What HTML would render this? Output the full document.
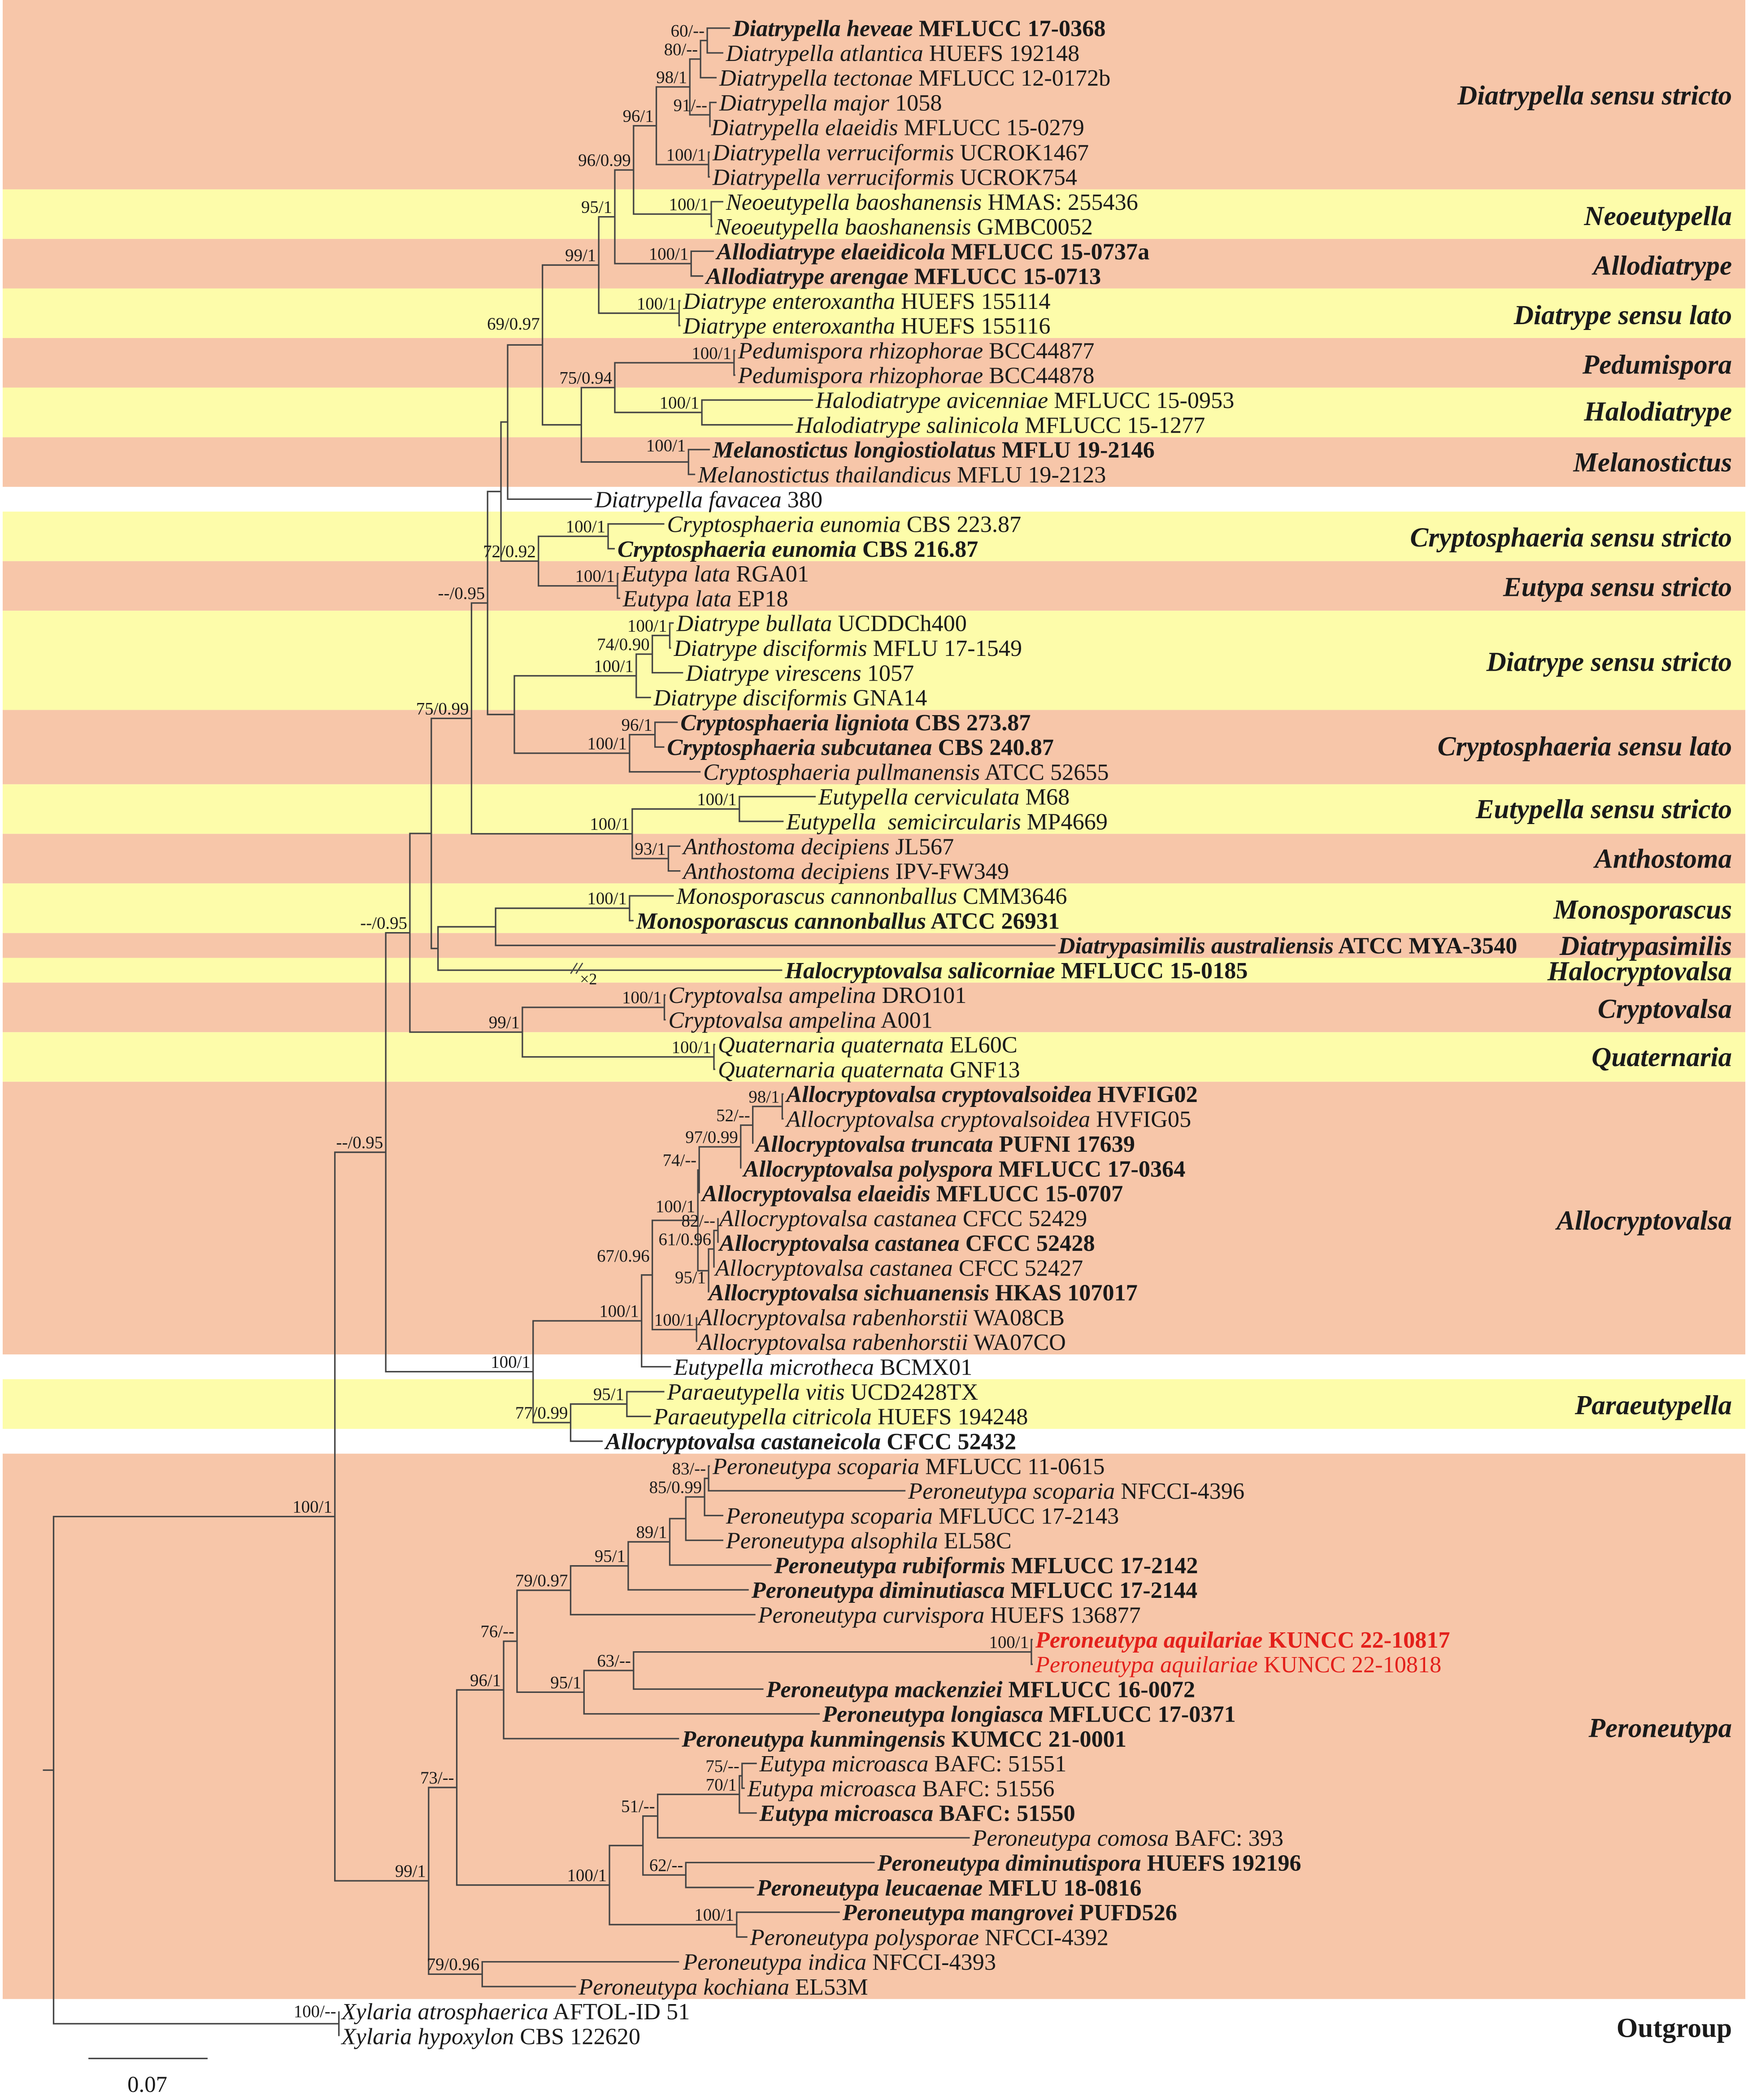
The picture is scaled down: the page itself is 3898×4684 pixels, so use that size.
<!DOCTYPE html>
<html><head><meta charset="utf-8"><style>
html,body{margin:0;padding:0;background:#fff;}
svg{display:block;}
text{font-family:"Liberation Serif",serif;fill:#1a1a1a;}
.t{font-size:17.5px;}
.b{font-weight:bold;}
.i{font-style:italic;}
.s{font-size:13px;text-anchor:end;fill:#222;}
.c{font-size:20.5px;font-weight:bold;font-style:italic;text-anchor:end;}
.r{fill:#e3201b;}
</style></head><body>
<svg width="3898" height="4684" viewBox="0 0 1305 1568" preserveAspectRatio="none" xmlns="http://www.w3.org/2000/svg">
<g>
<rect x="2" y="0" width="1301" height="141.4" fill="#f7c6a9"/>
<rect x="2" y="141.4" width="1301" height="37" fill="#fdfcaa"/>
<rect x="2" y="178.4" width="1301" height="37" fill="#f7c6a9"/>
<rect x="2" y="215.4" width="1301" height="37" fill="#fdfcaa"/>
<rect x="2" y="252.4" width="1301" height="37" fill="#f7c6a9"/>
<rect x="2" y="289.4" width="1301" height="37.1" fill="#fdfcaa"/>
<rect x="2" y="326.5" width="1301" height="37" fill="#f7c6a9"/>
<rect x="2" y="382" width="1301" height="37" fill="#fdfcaa"/>
<rect x="2" y="419" width="1301" height="37" fill="#f7c6a9"/>
<rect x="2" y="456" width="1301" height="74.1" fill="#fdfcaa"/>
<rect x="2" y="530.1" width="1301" height="55.5" fill="#f7c6a9"/>
<rect x="2" y="585.6" width="1301" height="37" fill="#fdfcaa"/>
<rect x="2" y="622.6" width="1301" height="37" fill="#f7c6a9"/>
<rect x="2" y="659.6" width="1301" height="37.1" fill="#fdfcaa"/>
<rect x="2" y="696.7" width="1301" height="18.5" fill="#f7c6a9"/>
<rect x="2" y="715.2" width="1301" height="18.5" fill="#fdfcaa"/>
<rect x="2" y="733.7" width="1301" height="37" fill="#f7c6a9"/>
<rect x="2" y="770.7" width="1301" height="37" fill="#fdfcaa"/>
<rect x="2" y="807.7" width="1301" height="203.6" fill="#f7c6a9"/>
<rect x="2" y="1029.8" width="1301" height="37.1" fill="#fdfcaa"/>
<rect x="2" y="1085.4" width="1301" height="407.2" fill="#f7c6a9"/>
</g>
<path fill="none" stroke="#444" stroke-width="1.1" d="
M545 21 H528 V39.5 H540
M528 30.25 H523 V58 H535
M535 76.5 H530 V95 H530
M523 44.1 H515 V85.75 H530
M530 113.6 H529 V132.1 H530
M515 64.9 H490 V122.85 H529
M540 150.6 H531 V169.1 H532
M490 93.9 H473 V159.85 H531
M533 187.6 H516 V206.1 H525
M473 126.9 H459 V196.85 H516
M508 224.6 H507 V243.1 H508
M459 161.9 H447 V233.85 H507
M549 261.6 H548 V280.1 H549
M607 298.7 H524 V317.2 H592
M548 270.85 H459 V307.95 H524
M530 335.7 H514 V354.2 H519
M459 289.4 H434 V344.95 H514
M447 197.9 H405 V317.2 H434
M405 257.55 H379 V372.7 H442
M496 391.2 H454 V409.7 H459
M462 428.2 H461 V446.7 H463
M454 400.45 H402 V437.45 H461
M379 315.1 H374 V418.95 H402
M503 465.2 H500 V483.8 H501
M500 474.5 H487 V502.3 H510
M487 488.4 H475 V520.8 H486
M506 539.3 H489 V557.8 H496
M489 548.55 H470 V576.3 H523
M475 504.6 H384 V562.4 H470
M374 367 H364 V533.5 H384
M609 594.8 H552 V613.3 H585
M508 631.8 H499 V650.3 H508
M552 604.05 H472 V641.05 H499
M364 450.25 H352 V622.55 H472
M503 668.9 H470 V687.4 H473
M470 678.15 H370 V705.9 H788
M370 692 H327 V724.4 H584
M352 536.4 H322 V708.2 H327
M497 742.9 H496 V761.4 H497
M534 779.9 H533 V798.4 H534
M496 752.15 H390 V789.15 H533
M322 622.3 H306 V770.65 H390
M585 816.9 H584 V835.4 H585
M584 826.15 H562 V854 H562
M562 840.1 H553 V872.5 H553
M553 856.3 H522 V891 H522
M536 909.5 V928
M536 918.75 H533 V946.5 H533
M533 932.6 H529 V965 H529
M522 873.65 H521 V948.8 H529
M520 983.5 V1002
M521 911.2 H487 V992.75 H520
M487 951.98 H479 V1020.5 H501
M496 1039.1 H468 V1057.6 H486
M468 1048.35 H426 V1076.1 H450
M479 986.24 H398 V1062.2 H426
M306 696.5 H288 V1024.2 H398
M530 1094.6 H529 V1113.1 H676
M529 1103.85 H526 V1131.6 H540
M526 1117.7 H512 V1150.1 H540
M512 1133.9 H500 V1168.6 H576
M500 1151.25 H469 V1187.1 H559
M469 1169.2 H426 V1205.6 H564
M771 1224.2 H770 V1242.7 H771
M770 1233.45 H473 V1261.2 H570
M473 1247.3 H436 V1279.7 H612
M426 1187.4 H386 V1263.5 H436
M386 1225.45 H376 V1298.2 H507
M565 1316.7 H554 V1335.2 H556
M554 1325.95 H552 V1353.7 H565
M552 1339.8 H491 V1372.2 H724
M653 1390.7 H512 V1409.3 H563
M491 1356 H480 V1400 H512
M627 1427.8 H550 V1446.3 H558
M480 1378 H455 V1437.05 H550
M376 1261.8 H341 V1407.5 H455
M507 1464.8 H360 V1483.3 H430
M341 1334.65 H320 V1474.05 H360
M288 860.35 H250 V1404.35 H320
M253 1501.8 V1520.3
M250 1132.35 H40 V1511.05 H253
M32 1321.7 H40
M66 1537 H155
"/>
<path fill="none" stroke="#444" stroke-width="0.9" d="M426 727 L431 719 M430 727 L435 719"/>
<text x="433" y="735" style="font-size:12px">×2</text>

<g class="t">
<text x="547" y="27" class="b"><tspan class="i">Diatrypella heveae</tspan> MFLUCC 17-0368</text>
<text x="542" y="45.5"><tspan class="i">Diatrypella atlantica</tspan> HUEFS 192148</text>
<text x="537" y="64"><tspan class="i">Diatrypella tectonae</tspan> MFLUCC 12-0172b</text>
<text x="537" y="82.5"><tspan class="i">Diatrypella major</tspan> 1058</text>
<text x="531" y="101"><tspan class="i">Diatrypella elaeidis</tspan> MFLUCC 15-0279</text>
<text x="532" y="119.6"><tspan class="i">Diatrypella verruciformis</tspan> UCROK1467</text>
<text x="532" y="138.1"><tspan class="i">Diatrypella verruciformis</tspan> UCROK754</text>
<text x="542" y="156.6"><tspan class="i">Neoeutypella baoshanensis</tspan> HMAS: 255436</text>
<text x="534" y="175.1"><tspan class="i">Neoeutypella baoshanensis</tspan> GMBC0052</text>
<text x="535" y="193.6" class="b"><tspan class="i">Allodiatrype elaeidicola</tspan> MFLUCC 15-0737a</text>
<text x="527" y="212.1" class="b"><tspan class="i">Allodiatrype arengae</tspan> MFLUCC 15-0713</text>
<text x="510" y="230.6"><tspan class="i">Diatrype enteroxantha</tspan> HUEFS 155114</text>
<text x="510" y="249.1"><tspan class="i">Diatrype enteroxantha</tspan> HUEFS 155116</text>
<text x="551" y="267.6"><tspan class="i">Pedumispora rhizophorae</tspan> BCC44877</text>
<text x="551" y="286.1"><tspan class="i">Pedumispora rhizophorae</tspan> BCC44878</text>
<text x="609" y="304.7"><tspan class="i">Halodiatrype avicenniae</tspan> MFLUCC 15-0953</text>
<text x="594" y="323.2"><tspan class="i">Halodiatrype salinicola</tspan> MFLUCC 15-1277</text>
<text x="532" y="341.7" class="b"><tspan class="i">Melanostictus longiostiolatus</tspan> MFLU 19-2146</text>
<text x="521" y="360.2"><tspan class="i">Melanostictus thailandicus</tspan> MFLU 19-2123</text>
<text x="444" y="378.7"><tspan class="i">Diatrypella favacea</tspan> 380</text>
<text x="498" y="397.2"><tspan class="i">Cryptosphaeria eunomia</tspan> CBS 223.87</text>
<text x="461" y="415.7" class="b"><tspan class="i">Cryptosphaeria eunomia</tspan> CBS 216.87</text>
<text x="464" y="434.2"><tspan class="i">Eutypa lata</tspan> RGA01</text>
<text x="465" y="452.7"><tspan class="i">Eutypa lata</tspan> EP18</text>
<text x="505" y="471.2"><tspan class="i">Diatrype bullata</tspan> UCDDCh400</text>
<text x="503" y="489.8"><tspan class="i">Diatrype disciformis</tspan> MFLU 17-1549</text>
<text x="512" y="508.3"><tspan class="i">Diatrype virescens</tspan> 1057</text>
<text x="488" y="526.8"><tspan class="i">Diatrype disciformis</tspan> GNA14</text>
<text x="508" y="545.3" class="b"><tspan class="i">Cryptosphaeria ligniota</tspan> CBS 273.87</text>
<text x="498" y="563.8" class="b"><tspan class="i">Cryptosphaeria subcutanea</tspan> CBS 240.87</text>
<text x="525" y="582.3"><tspan class="i">Cryptosphaeria pullmanensis</tspan> ATCC 52655</text>
<text x="611" y="600.8"><tspan class="i">Eutypella cerviculata</tspan> M68</text>
<text x="587" y="619.3"><tspan class="i">Eutypella&#160; semicircularis</tspan> MP4669</text>
<text x="510" y="637.8"><tspan class="i">Anthostoma decipiens</tspan> JL567</text>
<text x="510" y="656.3"><tspan class="i">Anthostoma decipiens</tspan> IPV-FW349</text>
<text x="505" y="674.9"><tspan class="i">Monosporascus cannonballus</tspan> CMM3646</text>
<text x="475" y="693.4" class="b"><tspan class="i">Monosporascus cannonballus</tspan> ATCC 26931</text>
<text x="790" y="711.9" class="b"><tspan class="i">Diatrypasimilis australiensis</tspan> ATCC MYA-3540</text>
<text x="586" y="730.4" class="b"><tspan class="i">Halocryptovalsa salicorniae</tspan> MFLUCC 15-0185</text>
<text x="499" y="748.9"><tspan class="i">Cryptovalsa ampelina</tspan> DRO101</text>
<text x="499" y="767.4"><tspan class="i">Cryptovalsa ampelina</tspan> A001</text>
<text x="536" y="785.9"><tspan class="i">Quaternaria quaternata</tspan> EL60C</text>
<text x="536" y="804.4"><tspan class="i">Quaternaria quaternata</tspan> GNF13</text>
<text x="587" y="822.9" class="b"><tspan class="i">Allocryptovalsa cryptovalsoidea</tspan> HVFIG02</text>
<text x="587" y="841.4"><tspan class="i">Allocryptovalsa cryptovalsoidea</tspan> HVFIG05</text>
<text x="564" y="860" class="b"><tspan class="i">Allocryptovalsa truncata</tspan> PUFNI 17639</text>
<text x="555" y="878.5" class="b"><tspan class="i">Allocryptovalsa polyspora</tspan> MFLUCC 17-0364</text>
<text x="524" y="897" class="b"><tspan class="i">Allocryptovalsa elaeidis</tspan> MFLUCC 15-0707</text>
<text x="537" y="915.5"><tspan class="i">Allocryptovalsa castanea</tspan> CFCC 52429</text>
<text x="537" y="934" class="b"><tspan class="i">Allocryptovalsa castanea</tspan> CFCC 52428</text>
<text x="534" y="952.5"><tspan class="i">Allocryptovalsa castanea</tspan> CFCC 52427</text>
<text x="529" y="971" class="b"><tspan class="i">Allocryptovalsa sichuanensis</tspan> HKAS 107017</text>
<text x="521" y="989.5"><tspan class="i">Allocryptovalsa rabenhorstii</tspan> WA08CB</text>
<text x="521" y="1008"><tspan class="i">Allocryptovalsa rabenhorstii</tspan> WA07CO</text>
<text x="503" y="1026.5"><tspan class="i">Eutypella microtheca</tspan> BCMX01</text>
<text x="498" y="1045.1"><tspan class="i">Paraeutypella vitis</tspan> UCD2428TX</text>
<text x="488" y="1063.6"><tspan class="i">Paraeutypella citricola</tspan> HUEFS 194248</text>
<text x="452" y="1082.1" class="b"><tspan class="i">Allocryptovalsa castaneicola</tspan> CFCC 52432</text>
<text x="532" y="1100.6"><tspan class="i">Peroneutypa scoparia</tspan> MFLUCC 11-0615</text>
<text x="678" y="1119.1"><tspan class="i">Peroneutypa scoparia</tspan> NFCCI-4396</text>
<text x="542" y="1137.6"><tspan class="i">Peroneutypa scoparia</tspan> MFLUCC 17-2143</text>
<text x="542" y="1156.1"><tspan class="i">Peroneutypa alsophila</tspan> EL58C</text>
<text x="578" y="1174.6" class="b"><tspan class="i">Peroneutypa rubiformis</tspan> MFLUCC 17-2142</text>
<text x="561" y="1193.1" class="b"><tspan class="i">Peroneutypa diminutiasca</tspan> MFLUCC 17-2144</text>
<text x="566" y="1211.6"><tspan class="i">Peroneutypa curvispora</tspan> HUEFS 136877</text>
<text x="773" y="1230.2" class="b r"><tspan class="i r">Peroneutypa aquilariae</tspan> KUNCC 22-10817</text>
<text x="773" y="1248.7" class="r"><tspan class="i r">Peroneutypa aquilariae</tspan> KUNCC 22-10818</text>
<text x="572" y="1267.2" class="b"><tspan class="i">Peroneutypa mackenziei</tspan> MFLUCC 16-0072</text>
<text x="614" y="1285.7" class="b"><tspan class="i">Peroneutypa longiasca</tspan> MFLUCC 17-0371</text>
<text x="509" y="1304.2" class="b"><tspan class="i">Peroneutypa kunmingensis</tspan> KUMCC 21-0001</text>
<text x="567" y="1322.7"><tspan class="i">Eutypa microasca</tspan> BAFC: 51551</text>
<text x="558" y="1341.2"><tspan class="i">Eutypa microasca</tspan> BAFC: 51556</text>
<text x="567" y="1359.7" class="b"><tspan class="i">Eutypa microasca</tspan> BAFC: 51550</text>
<text x="726" y="1378.2"><tspan class="i">Peroneutypa comosa</tspan> BAFC: 393</text>
<text x="655" y="1396.7" class="b"><tspan class="i">Peroneutypa diminutispora</tspan> HUEFS 192196</text>
<text x="565" y="1415.3" class="b"><tspan class="i">Peroneutypa leucaenae</tspan> MFLU 18-0816</text>
<text x="629" y="1433.8" class="b"><tspan class="i">Peroneutypa mangrovei</tspan> PUFD526</text>
<text x="560" y="1452.3"><tspan class="i">Peroneutypa polysporae</tspan> NFCCI-4392</text>
<text x="510" y="1470.8"><tspan class="i">Peroneutypa indica</tspan> NFCCI-4393</text>
<text x="432" y="1489.3"><tspan class="i">Peroneutypa kochiana</tspan> EL53M</text>
<text x="255" y="1507.8"><tspan class="i">Xylaria atrosphaerica</tspan> AFTOL-ID 51</text>
<text x="255" y="1526.3"><tspan class="i">Xylaria hypoxylon</tspan> CBS 122620</text>
</g>

<g class="s">
<text x="526" y="27.3">60/--</text>
<text x="521" y="41.1">80/--</text>
<text x="528" y="82.8">91/--</text>
<text x="513" y="61.9">98/1</text>
<text x="527" y="119.9">100/1</text>
<text x="488" y="90.9">96/1</text>
<text x="529" y="156.9">100/1</text>
<text x="471" y="123.9">96/0.99</text>
<text x="514" y="193.9">100/1</text>
<text x="457" y="158.9">95/1</text>
<text x="505" y="230.9">100/1</text>
<text x="445" y="194.9">99/1</text>
<text x="546" y="267.9">100/1</text>
<text x="522" y="304.9">100/1</text>
<text x="457" y="286.4">75/0.94</text>
<text x="512" y="337">100/1</text>
<text x="403" y="246">69/0.97</text>
<text x="452" y="397.4">100/1</text>
<text x="459" y="434.4">100/1</text>
<text x="400" y="415.9">72/0.92</text>
<text x="362" y="447.2">--/0.95</text>
<text x="498" y="471.5">100/1</text>
<text x="485" y="485.4">74/0.90</text>
<text x="473" y="501.6">100/1</text>
<text x="487" y="545.5">96/1</text>
<text x="468" y="559.4">100/1</text>
<text x="350" y="533.4">75/0.99</text>
<text x="550" y="601">100/1</text>
<text x="470" y="619.5">100/1</text>
<text x="497" y="638">93/1</text>
<text x="468" y="675.1">100/1</text>
<text x="304" y="693.5">--/0.95</text>
<text x="388" y="767.6">99/1</text>
<text x="494" y="749.1">100/1</text>
<text x="531" y="786.1">100/1</text>
<text x="582" y="823.1">98/1</text>
<text x="560" y="837.1">52/--</text>
<text x="551" y="853.3">97/0.99</text>
<text x="520" y="870.6">74/--</text>
<text x="519" y="905">100/1</text>
<text x="534" y="915.7">82/--</text>
<text x="531" y="929.6">61/0.96</text>
<text x="527" y="958">95/1</text>
<text x="518" y="989.7">100/1</text>
<text x="485" y="942">67/0.96</text>
<text x="477" y="983.2">100/1</text>
<text x="466" y="1045.3">95/1</text>
<text x="424" y="1059.2">77/0.99</text>
<text x="396" y="1021.2">100/1</text>
<text x="286" y="857.3">--/0.95</text>
<text x="527" y="1100.8">83/--</text>
<text x="524" y="1114.7">85/0.99</text>
<text x="498" y="1148.2">89/1</text>
<text x="467" y="1166.2">95/1</text>
<text x="424" y="1184.4">79/0.97</text>
<text x="768" y="1230.4">100/1</text>
<text x="471" y="1244.3">63/--</text>
<text x="434" y="1260.5">95/1</text>
<text x="384" y="1222.4">76/--</text>
<text x="374" y="1258.8">96/1</text>
<text x="552" y="1322.9">75/--</text>
<text x="550" y="1336.8">70/1</text>
<text x="489" y="1353">51/--</text>
<text x="510" y="1397">62/--</text>
<text x="548" y="1434">100/1</text>
<text x="453" y="1404.5">100/1</text>
<text x="339" y="1331.6">73/--</text>
<text x="358" y="1471">79/0.96</text>
<text x="318" y="1401.3">99/1</text>
<text x="248" y="1129.3">100/1</text>
<text x="251" y="1506">100/--</text>
</g>

<g class="c">
<text x="1293" y="78">Diatrypella sensu stricto</text>
<text x="1293" y="168">Neoeutypella</text>
<text x="1293" y="205">Allodiatrype</text>
<text x="1293" y="242">Diatrype sensu lato</text>
<text x="1293" y="279">Pedumispora</text>
<text x="1293" y="314">Halodiatrype</text>
<text x="1293" y="352">Melanostictus</text>
<text x="1293" y="408">Cryptosphaeria sensu stricto</text>
<text x="1293" y="445">Eutypa sensu stricto</text>
<text x="1293" y="501">Diatrype sensu stricto</text>
<text x="1293" y="564">Cryptosphaeria sensu lato</text>
<text x="1293" y="611">Eutypella sensu stricto</text>
<text x="1293" y="648">Anthostoma</text>
<text x="1293" y="686">Monosporascus</text>
<text x="1293" y="713">Diatrypasimilis</text>
<text x="1293" y="732">Halocryptovalsa</text>
<text x="1293" y="760">Cryptovalsa</text>
<text x="1293" y="796">Quaternaria</text>
<text x="1293" y="918">Allocryptovalsa</text>
<text x="1293" y="1056">Paraeutypella</text>
<text x="1293" y="1297">Peroneutypa</text>
<text x="1293" y="1521" style="font-style:normal">Outgroup</text>
</g>
<text x="110" y="1562" style="font-size:17px;text-anchor:middle">0.07</text>
</svg>
</body></html>
